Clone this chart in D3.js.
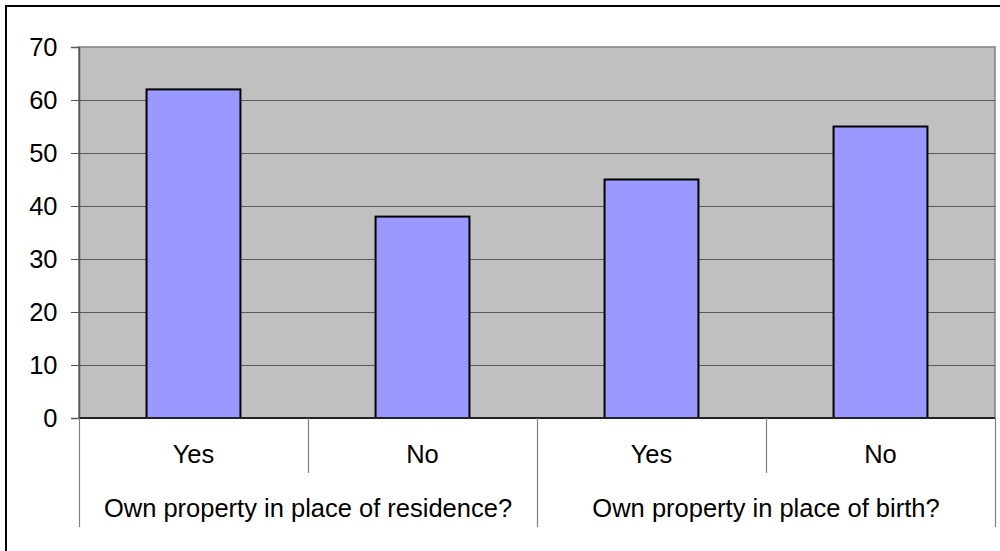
<!DOCTYPE html>
<html>
<head>
<meta charset="utf-8">
<script src="https://cdn.jsdelivr.net/npm/d3@7"></script>
<style>
  html, body { margin: 0; padding: 0; background: #ffffff; }
  #chart { width: 1000px; height: 551px; }
</style>
</head>
<body>
<div id="chart"></div>
<script>
// Property ownership chart: two grouped questions, Yes / No share each

const groups = ["Own property in place of residence?", "Own property in place of birth?"];
const answers = ["Yes", "No"];
const values = [62, 38, 45, 55];
const yTicks = [0, 10, 20, 30, 40, 50, 60, 70];

function drawChart() {
  const width = 1000;
  const height = 551;
  const fontUi = '"Liberation Sans", Arial, sans-serif';
  const fontSize = 25.5;

  const plot = { left: 79, top: 47, right: 995, bottom: 418 };

  const rows = [];
  groups.forEach(function(g, gi) {
    answers.forEach(function(a, ai) {
      rows.push({ key: gi + "-" + ai, group: g, answer: a, value: values[gi * answers.length + ai] });
    });
  });

  const svg = d3.select("#chart")
    .append("svg")
    .attr("width", width)
    .attr("height", height)
    .attr("viewBox", [0, 0, width, height]);

  // outer chart border (runs off the right and bottom edges)
  svg.append("rect")
    .attr("x", 6)
    .attr("y", 6)
    .attr("width", width + 10)
    .attr("height", height + 10)
    .attr("fill", "#ffffff")
    .attr("stroke", "#000000")
    .attr("stroke-width", 2);

  const x = d3.scaleBand()
    .domain(rows.map(function(d) { return d.key; }))
    .range([plot.left, plot.right])
    .paddingInner(0.59)
    .paddingOuter(0.295);

  const xCat = d3.scaleBand()
    .domain(rows.map(function(d) { return d.key; }))
    .range([plot.left, plot.right]);

  const y = d3.scaleLinear()
    .domain([0, 70])
    .range([plot.bottom, plot.top]);

  svg.append("rect")
    .attr("x", plot.left)
    .attr("y", plot.top)
    .attr("width", plot.right - plot.left)
    .attr("height", plot.bottom - plot.top)
    .attr("fill", "#c0c0c0")
    .attr("stroke", "#808080")
    .attr("stroke-width", 1.5);

  // gridlines
  svg.append("g")
    .selectAll("line")
    .data(yTicks.filter(function(t) { return t > 0 && t < 70; }))
    .join("line")
    .attr("x1", plot.left)
    .attr("x2", plot.right)
    .attr("y1", function(d) { return Math.round(y(d)) + 0.5; })
    .attr("y2", function(d) { return Math.round(y(d)) + 0.5; })
    .attr("stroke", "#5a5a5a")
    .attr("stroke-width", 1);

  // bars
  svg.append("g")
    .selectAll("rect")
    .data(rows)
    .join("rect")
    .attr("x", function(d) { return x(d.key); })
    .attr("y", function(d) { return y(d.value); })
    .attr("width", x.bandwidth())
    .attr("height", function(d) { return y(0) - y(d.value); })
    .attr("fill", "#9999ff")
    .attr("stroke", "#000000")
    .attr("stroke-width", 2);

  // y axis
  const yAxis = d3.axisLeft(y)
    .tickValues(yTicks)
    .tickSize(8)
    .tickPadding(13.5)
    .tickFormat(d3.format("d"));

  const yg = svg.append("g")
    .attr("transform", "translate(" + plot.left + ",0)")
    .call(yAxis);
  yg.select(".domain").attr("stroke", "#555555").attr("stroke-width", 1.5);
  yg.selectAll(".tick line").attr("stroke", "#555555");
  yg.selectAll(".tick text")
    .attr("font-family", fontUi)
    .attr("font-size", fontSize)
    .attr("fill", "#000000");

  // x axis line
  svg.append("line")
    .attr("x1", plot.left)
    .attr("x2", plot.right)
    .attr("y1", plot.bottom)
    .attr("y2", plot.bottom)
    .attr("stroke", "#222222")
    .attr("stroke-width", 2);

  // category separators: short between answers, long between groups
  const boundaries = d3.range(rows.length + 1).map(function(i) {
    return { i: i, x: i < rows.length ? xCat(rows[i].key) : plot.right };
  });

  svg.append("g")
    .selectAll("line")
    .data(boundaries)
    .join("line")
    .attr("x1", function(d) { return Math.round(d.x) + 0.5; })
    .attr("x2", function(d) { return Math.round(d.x) + 0.5; })
    .attr("y1", plot.bottom)
    .attr("y2", function(d) { return d.i % answers.length === 0 ? 527 : 473; })
    .attr("stroke", "#808080")
    .attr("stroke-width", 1.2);

  svg.append("g")
    .selectAll("text")
    .data(rows)
    .join("text")
    .attr("x", function(d) { return xCat(d.key) + xCat.bandwidth() / 2; })
    .attr("y", 463)
    .attr("text-anchor", "middle")
    .attr("font-family", fontUi)
    .attr("font-size", fontSize)
    .attr("fill", "#000000")
    .text(function(d) { return d.answer; });

  const groupWidth = (plot.right - plot.left) / groups.length;
  svg.append("g")
    .selectAll("text")
    .data(groups)
    .join("text")
    .attr("x", function(d, i) { return plot.left + groupWidth * (i + 0.5); })
    .attr("y", 517)
    .attr("text-anchor", "middle")
    .attr("font-family", fontUi)
    .attr("font-size", fontSize)
    .attr("fill", "#000000")
    .text(function(d) { return d; });
}

if (document.readyState === "loading") {
  document.addEventListener("DOMContentLoaded", drawChart);
} else {
  drawChart();
}
</script>
</body>
</html>
